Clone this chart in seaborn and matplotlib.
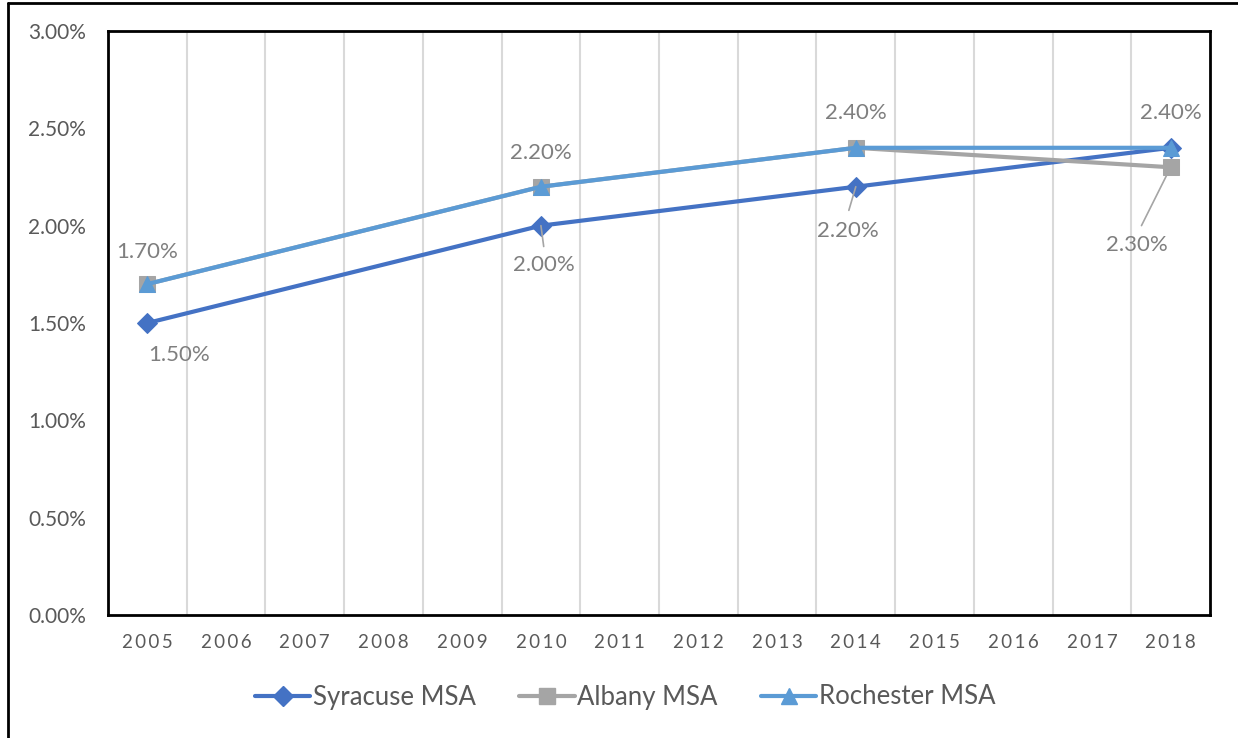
import matplotlib
matplotlib.use("Agg")
import matplotlib.pyplot as plt
from matplotlib.lines import Line2D
import seaborn as sns
import pandas as pd

years = [str(y) for y in range(2005, 2019)]
data_years = ["2005", "2010", "2014", "2018"]
syracuse = [1.5, 2.0, 2.2, 2.4]
albany = [1.7, 2.2, 2.4, 2.3]
rochester = [1.7, 2.2, 2.4, 2.4]
series_names = ["Syracuse MSA", "Albany MSA", "Rochester MSA"]
yticks = [0.0, 0.5, 1.0, 1.5, 2.0, 2.5, 3.0]

colors = {"Syracuse MSA": "#4472C4", "Albany MSA": "#A5A5A5", "Rochester MSA": "#5B9BD5"}
markers = {"Syracuse MSA": "D", "Albany MSA": "s", "Rochester MSA": "^"}
msizes = {"Syracuse MSA": 10, "Albany MSA": 11, "Rochester MSA": 12}

rows = []
for name, vals in zip(series_names, [syracuse, albany, rochester]):
    for yr, v in zip(data_years, vals):
        rows.append({"series": name, "pos": years.index(yr), "value": v})
df = pd.DataFrame(rows)

sns.set_theme(style="white")
plt.rcParams["font.family"] = ["Lato", "DejaVu Sans"]

fig = plt.figure(figsize=(12.38, 7.38), dpi=100)
ax = fig.add_axes([108 / 1238, 1 - 615 / 738, (1210 - 108) / 1238, (615 - 31) / 738])

for name in series_names:
    sub = df[df["series"] == name]
    sns.lineplot(data=sub, x="pos", y="value", ax=ax, color=colors[name],
                 marker=markers[name], markersize=msizes[name],
                 markeredgecolor=colors[name], linewidth=3, label=name,
                 zorder=3, legend=False)

ax.set_xlim(-0.5, len(years) - 0.5)
ax.set_ylim(0, 3.0)
ax.set_xticks(range(len(years)))
ax.set_xticklabels(["\u2009".join(y) for y in years], fontsize=13.5, color="#595959")
ax.set_yticks(yticks)
ax.set_yticklabels([f"{v:.2f}%" for v in yticks], fontsize=15, color="#595959")
ax.tick_params(axis="both", length=0)
ax.tick_params(axis="y", pad=16)
ax.tick_params(axis="x", pad=14)
ax.set_xlabel("")
ax.set_ylabel("")
for b in [i + 0.5 for i in range(len(years) - 1)]:
    ax.axvline(b, color="#D9D9D9", linewidth=1.5, zorder=1)
for s in ax.spines.values():
    s.set_color("black")
    s.set_linewidth(2)

lab_color = "#7F7F7F"
def lab(yr, val, text, dx, dy, leader=None):
    x = years.index(yr)
    ax.annotate(text, (x, val), xytext=(dx, dy), textcoords="offset points",
                ha="center", va="center", fontsize=16, color=lab_color, zorder=5)
    if leader is not None:
        ax.annotate("", xy=(x, val), xycoords="data",
                    xytext=leader, textcoords="offset points",
                    arrowprops=dict(arrowstyle="-", color="#A5A5A5", lw=1.2,
                                    shrinkA=0, shrinkB=0), zorder=4)

lab("2005", 1.7, "1.70%", 0, 23)
lab("2005", 1.5, "1.50%", 23, -23)
lab("2010", 2.2, "2.20%", 0, 24)
lab("2010", 2.0, "2.00%", 2, -28, leader=(2, -15))
lab("2014", 2.4, "2.40%", 0, 25)
lab("2014", 2.2, "2.20%", -6, -32, leader=(-5, -17))
lab("2018", 2.4, "2.40%", 0, 25)
lab("2018", 2.3, "2.30%", -24, -56, leader=(-21, -42))

handles = [Line2D([0], [0], color=colors[n], marker=markers[n], markersize=msizes[n],
                  markeredgecolor=colors[n], linewidth=3) for n in series_names]
fig.legend(handles, series_names, loc="center", bbox_to_anchor=(0.505, 1 - 697 / 738),
           ncol=3, frameon=False, fontsize=18.5, handlelength=2.15, columnspacing=1.7,
           handletextpad=0.1, labelcolor="#595959")

fig.add_artist(Line2D([8 / 1238, 8 / 1238], [0, 1 - 3 / 738], color="black",
                      linewidth=2, transform=fig.transFigure))
fig.add_artist(Line2D([8 / 1238, 1], [1 - 3 / 738, 1 - 3 / 738], color="black",
                      linewidth=2, transform=fig.transFigure))

fig.savefig("out.png", dpi=100, facecolor="white")
